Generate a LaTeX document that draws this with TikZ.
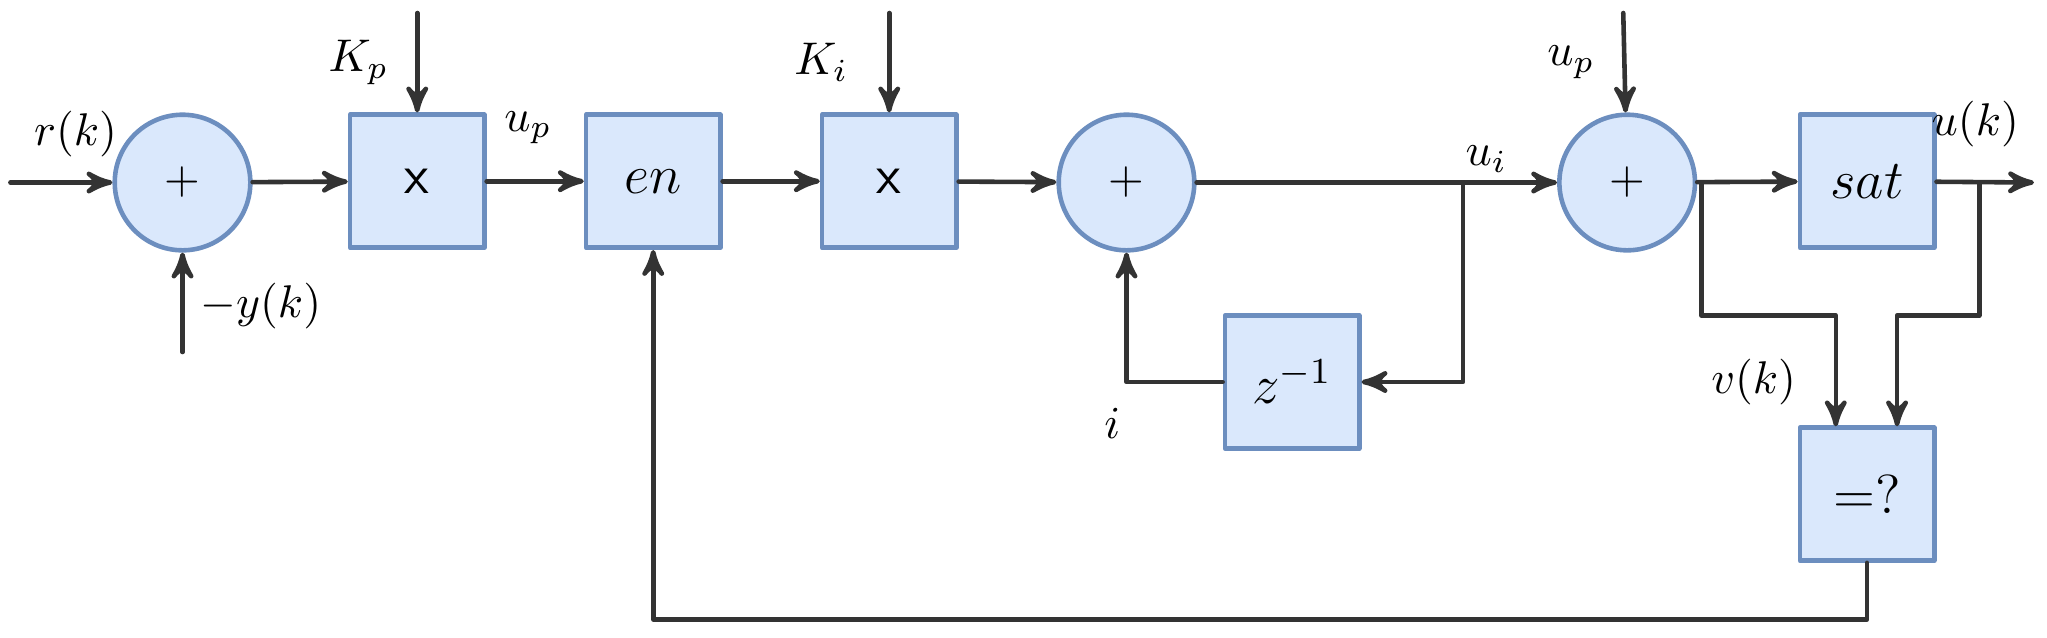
\documentclass[tikz,border=0pt]{standalone}
\usepackage{amsmath}
\usetikzlibrary{arrows}
\definecolor{boxfill}{HTML}{DAE8FC}
\definecolor{boxline}{HTML}{6C8EBF}
\definecolor{wire}{HTML}{333333}
\tikzset{
  blk/.style={draw=boxline,fill=boxfill,line width=1pt,minimum width=1.03cm,minimum height=1.02cm,inner sep=0pt,font=\large},
  sumnode/.style={circle,draw=boxline,fill=boxfill,line width=1pt,minimum size=1.04cm,inner sep=0pt,font=\sffamily},
  lbl/.style={font=\normalsize}
}
\begin{document}
\begin{tikzpicture}[line cap=round,line join=round,>=stealth',x=1.0cm,y=1.0cm]
\useasboundingbox (0,0) rectangle (15.70,-4.89);
\begin{scope}[draw=wire,line width=1pt]
% blocks
\node[sumnode] (s1) at (1.40,-1.40) {+};
\node[blk,font=\sffamily\large] (mp) at (3.20,-1.39) {x};
\node[blk] (en) at (5.01,-1.39) {$en$};
\node[blk,font=\sffamily\large] (mi) at (6.82,-1.39) {x};
\node[sumnode] (s2) at (8.64,-1.40) {+};
\node[sumnode] (s3) at (12.48,-1.40) {+};
\node[blk] (sat) at (14.32,-1.39) {$sat$};
\node[blk] (dly) at (9.91,-2.93) {$z^{-1}$};
\node[blk] (cmp) at (14.32,-3.79) {$=?$};
% free ends
\coordinate (in) at (0.08,-1.40);
\coordinate (yk) at (1.40,-2.70);
\coordinate (kp) at (3.20,-0.10);
\coordinate (ki) at (6.82,-0.10);
\coordinate (up) at (12.45,-0.10);
\coordinate (out) at (15.60,-1.40);
\coordinate (ja) at (11.22,-1.40);
\coordinate (jb) at (13.05,-1.40);
\coordinate (jc) at (15.18,-1.40);
% connectors
\draw[->] (in) -- (s1);
\draw[->] (yk) -- (s1);
\draw[->] (s1) -- (mp);
\draw[->] (kp) -- (mp);
\draw[->] (mp) -- (en);
\draw[->] (en) -- (mi);
\draw[->] (ki) -- (mi);
\draw[->] (mi) -- (s2);
\draw (s2) -- (ja);
\draw[->] (ja) -- (s3);
\draw[->] (up) -- (s3);
\draw[->] (s3) -- (sat);
\draw[->] (sat) -- (out);
\draw[->] (ja) |- (dly);
\draw[->] (dly) -| (s2);
\draw[->] (jb) |- (14.08,-2.42) -- (14.08,-3.27);
\draw[->] (jc) |- (14.55,-2.42) -- (14.55,-3.27);
\draw[->] (cmp) |- (5.01,-4.75) -- (en);
\end{scope}
% labels
\node[lbl] at (0.58,-1.03) {$r(k)$};
\node[lbl] at (2.00,-2.35) {$-y(k)$};
\node[lbl] at (2.75,-0.48) {$K_p$};
\node[lbl] at (4.05,-0.98) {$u_p$};
\node[lbl] at (6.30,-0.48) {$K_i$};
\node[lbl] at (11.40,-1.22) {$u_i$};
\node[lbl] at (12.05,-0.48) {$u_p$};
\node[lbl] at (15.15,-0.95) {$u(k)$};
\node[lbl] at (8.53,-3.25) {$i$};
\node[lbl] at (13.45,-2.93) {$v(k)$};
\end{tikzpicture}
\end{document}
